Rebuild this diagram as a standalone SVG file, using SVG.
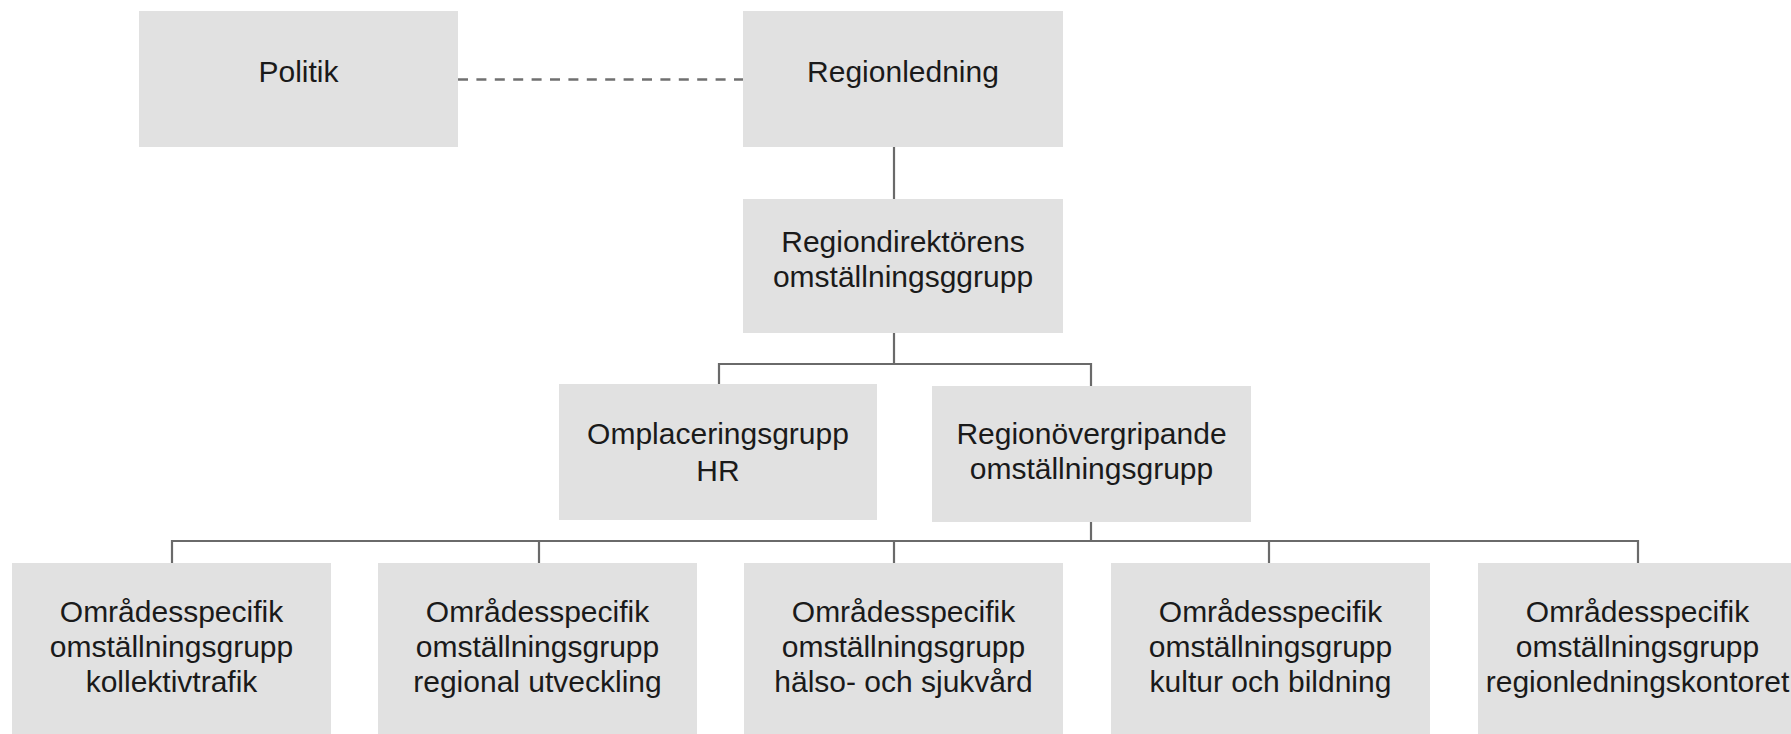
<svg xmlns="http://www.w3.org/2000/svg" width="1791" height="734" viewBox="0 0 1791 734">
<style>
.box{fill:#e1e1e1}
.t{font-family:"Liberation Sans",Arial,Helvetica,sans-serif;font-size:30px;fill:#1a1a1a;text-anchor:middle}
.c{stroke:#6a6a6a;stroke-width:2.2;fill:none}
.d{stroke:#707070;stroke-width:2.6;fill:none;stroke-dasharray:10 8.4}
</style>
<rect width="1791" height="734" fill="#ffffff"/>
<g id="connectors">
<line class="d" x1="458" y1="79.5" x2="744" y2="79.5"/>
<line class="c" x1="894" y1="147" x2="894" y2="199"/>
<polyline class="c" points="894,333 894,364"/>
<polyline class="c" points="719,385 719,364 1091,364 1091,386"/>
<polyline class="c" points="1091,522 1091,541"/>
<polyline class="c" points="172,563 172,541 1638,541 1638,563"/>
<line class="c" x1="539" y1="541" x2="539" y2="563"/>
<line class="c" x1="894" y1="541" x2="894" y2="563"/>
<line class="c" x1="1269" y1="541" x2="1269" y2="563"/>
</g>
<g id="politik">
<rect class="box" x="139" y="11" width="319" height="136"/>
<text class="t" x="298.5" y="82">Politik</text>
</g>
<g id="regionledning">
<rect class="box" x="743" y="11" width="320" height="136"/>
<text class="t" x="903" y="82">Regionledning</text>
</g>
<g id="regiondirektorens">
<rect class="box" x="743" y="199" width="320" height="134"/>
<text class="t" x="903" y="252">Regiondirektörens</text>
<text class="t" x="903" y="287">omställningsggrupp</text>
</g>
<g id="omplacering">
<rect class="box" x="559" y="384" width="318" height="136"/>
<text class="t" x="718" y="444">Omplaceringsgrupp</text>
<text class="t" x="718" y="481">HR</text>
</g>
<g id="regionovergripande">
<rect class="box" x="932" y="386" width="319" height="136"/>
<text class="t" x="1091.5" y="444">Regionövergripande</text>
<text class="t" x="1091.5" y="479">omställningsgrupp</text>
</g>
<g id="kollektivtrafik">
<rect class="box" x="12" y="563" width="319" height="180"/>
<text class="t" x="171.5" y="622">Områdesspecifik</text>
<text class="t" x="171.5" y="657">omställningsgrupp</text>
<text class="t" x="171.5" y="692">kollektivtrafik</text>
</g>
<g id="regional-utveckling">
<rect class="box" x="378" y="563" width="319" height="180"/>
<text class="t" x="537.5" y="622">Områdesspecifik</text>
<text class="t" x="537.5" y="657">omställningsgrupp</text>
<text class="t" x="537.5" y="692">regional utveckling</text>
</g>
<g id="halso-sjukvard">
<rect class="box" x="744" y="563" width="319" height="180"/>
<text class="t" x="903.5" y="622">Områdesspecifik</text>
<text class="t" x="903.5" y="657">omställningsgrupp</text>
<text class="t" x="903.5" y="692">hälso- och sjukvård</text>
</g>
<g id="kultur-bildning">
<rect class="box" x="1111" y="563" width="319" height="180"/>
<text class="t" x="1270.5" y="622">Områdesspecifik</text>
<text class="t" x="1270.5" y="657">omställningsgrupp</text>
<text class="t" x="1270.5" y="692">kultur och bildning</text>
</g>
<g id="regionledningskontoret">
<rect class="box" x="1478" y="563" width="319" height="180"/>
<text class="t" x="1637.5" y="622">Områdesspecifik</text>
<text class="t" x="1637.5" y="657">omställningsgrupp</text>
<text class="t" x="1637.5" y="692">regionledningskontoret</text>
</g>
</svg>
